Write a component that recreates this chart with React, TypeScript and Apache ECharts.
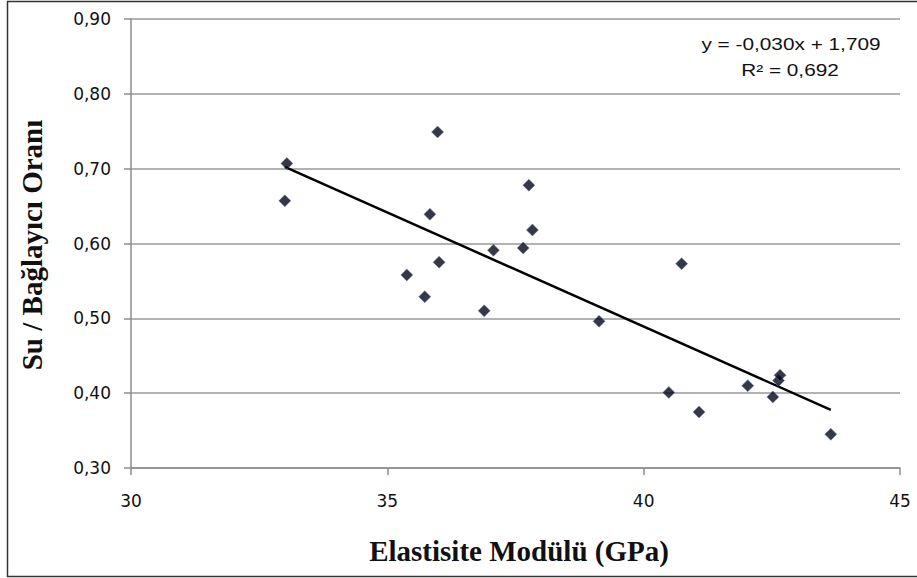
import React, { useEffect, useRef } from "react";
import * as echarts from "echarts";

const elasticModulus = [
  33.04, 33.0, 35.98, 35.83, 37.76, 37.83, 37.65, 37.07, 36.01, 35.38, 35.73,
  36.89, 39.13, 40.74, 40.49, 41.08, 42.03, 42.52, 42.63, 42.66, 43.65,
];
const waterBinderRatio = [
  0.707, 0.657, 0.749, 0.639, 0.678, 0.618, 0.594, 0.591, 0.575, 0.558, 0.529,
  0.51, 0.496, 0.573, 0.401, 0.375, 0.41, 0.395, 0.417, 0.424, 0.345,
];
const trendSlope = -0.0305;
const trendIntercept = 1.709;
const equationLines = ["y = -0,030x + 1,709", "R² = 0,692"];
const xTitle = "Elastisite Modülü (GPa)";
const yTitle = "Su / Bağlayıcı Oranı";

export default function App() {
  const ref = useRef<HTMLDivElement>(null);
  useEffect(() => {
    if (!ref.current) return;
    const chart = echarts.init(ref.current, null, { renderer: "svg" });
    const points = elasticModulus.map((x, i) => [x, waterBinderRatio[i]]);
    const xMin = Math.min(...elasticModulus);
    const xMax = Math.max(...elasticModulus);
    const trend = [
      [xMin, trendIntercept + trendSlope * xMin],
      [xMax, trendIntercept + trendSlope * xMax],
    ];
    const labelFont = "'DejaVu Sans', Tahoma, sans-serif";
    const titleFont = "bold 29px 'Liberation Serif', 'Times New Roman', serif";
    const eqFont = "16px 'Liberation Sans', Arial, sans-serif";
    chart.setOption({
      animation: false,
      backgroundColor: "#fff",
      grid: { left: 131, right: 17, top: 19, bottom: 110, containLabel: false },
      xAxis: {
        type: "value",
        min: 30,
        max: 45,
        interval: 5,
        axisLine: { show: true, lineStyle: { color: "#8c8c8c", width: 1.5 } },
        axisTick: { show: true, length: 7, inside: false, lineStyle: { color: "#8c8c8c", width: 1.5 } },
        splitLine: { show: false },
        axisLabel: { color: "#111", fontSize: 17, fontFamily: labelFont, margin: 24 },
      },
      yAxis: {
        type: "value",
        min: 0.3,
        max: 0.9,
        interval: 0.1,
        axisLine: { show: true, lineStyle: { color: "#8c8c8c", width: 1.5 } },
        axisTick: { show: true, length: 7, inside: false, lineStyle: { color: "#8c8c8c", width: 1.5 } },
        splitLine: { show: true, lineStyle: { color: "#999", width: 1.5 } },
        axisLabel: {
          color: "#111",
          fontSize: 17,
          fontFamily: labelFont,
          margin: 20,
          formatter: (v: number) => v.toFixed(2).replace(".", ","),
        },
      },
      graphic: [
        {
          type: "rect",
          shape: { x: 7.5, y: 1.5, width: 920, height: 575 },
          style: { fill: "none", stroke: "#333", lineWidth: 1.5 },
          silent: true,
        },
        {
          type: "text",
          x: 519,
          y: 551,
          style: {
            text: xTitle,
            font: titleFont,
            fill: "#111",
            textAlign: "center",
            textVerticalAlign: "middle",
          },
        },
        {
          type: "text",
          x: 32,
          y: 245,
          rotation: Math.PI / 2,
          style: {
            text: yTitle,
            font: titleFont,
            fill: "#111",
            textAlign: "center",
            textVerticalAlign: "middle",
          },
        },
        {
          type: "text",
          x: 791,
          y: 44,
          scaleX: 1.3,
          style: {
            text: equationLines[0],
            font: eqFont,
            fill: "#111",
            textAlign: "center",
            textVerticalAlign: "middle",
          },
        },
        {
          type: "text",
          x: 790,
          y: 70,
          scaleX: 1.3,
          style: {
            text: equationLines[1],
            font: eqFont,
            fill: "#111",
            textAlign: "center",
            textVerticalAlign: "middle",
          },
        },
      ],
      series: [
        {
          type: "line",
          data: trend,
          symbol: "none",
          lineStyle: { color: "#000", width: 2.5 },
          z: 2,
        },
        {
          type: "scatter",
          data: points,
          symbol: "diamond",
          symbolSize: 12,
          itemStyle: { color: "#050518", borderColor: "#5a7fb0", borderWidth: 0.6 },
          z: 3,
        },
      ],
    });
    return () => chart.dispose();
  }, []);
  return (
    <div
      ref={ref}
      style={{ position: "absolute", left: 0, top: 0, width: 917, height: 578 }}
    />
  );
}
